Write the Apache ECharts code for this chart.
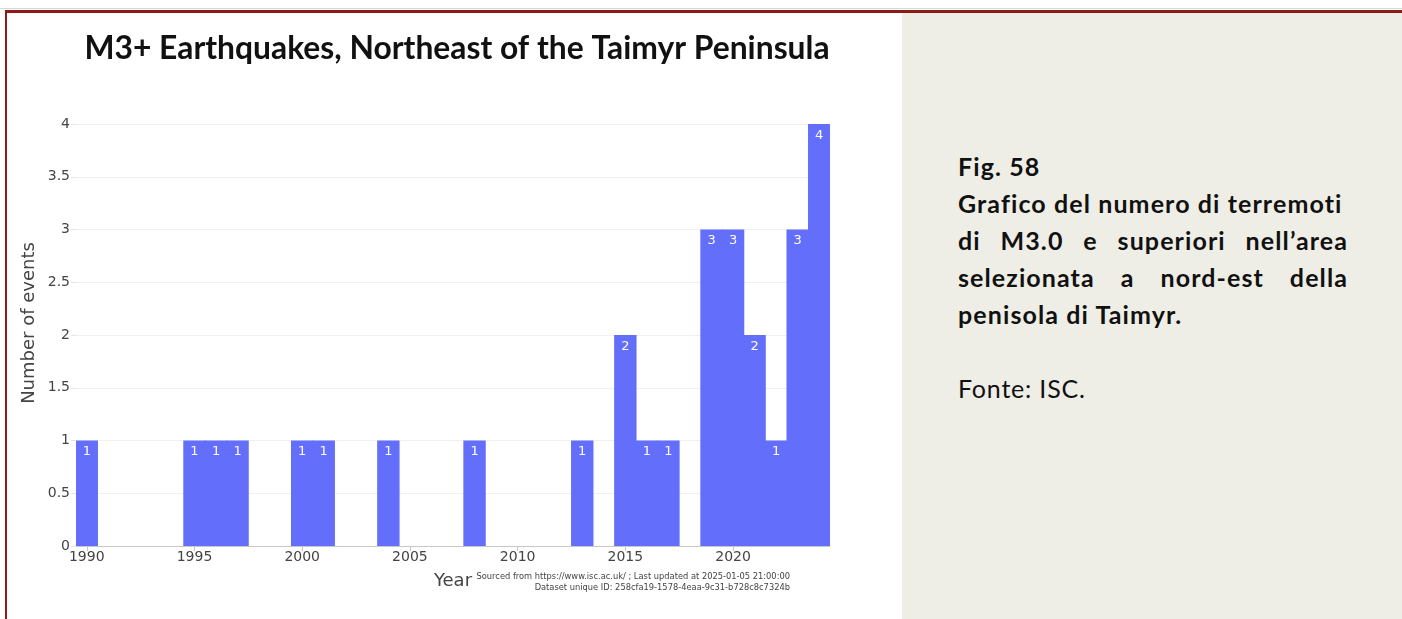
<!DOCTYPE html>
<html><head><meta charset="utf-8">
<script src="https://cdn.jsdelivr.net/npm/echarts@6/dist/echarts.min.js"></script>
<style>
html,body{margin:0;padding:0;background:#fff;width:1402px;height:619px;overflow:hidden;}
#topgray{position:absolute;left:0;top:8px;width:1402px;height:1px;background:#d8d8d8;}
#topred{position:absolute;left:5px;top:10px;width:1397px;height:3px;background:#8e1b17;}
#leftred{position:absolute;left:5px;top:10px;width:2px;height:609px;background:#8e1b17;}
#chart{position:absolute;left:0;top:0;width:902px;height:619px;}
#panel{position:absolute;left:902px;top:13px;width:500px;height:606px;background:#efeee6;}
#cap{position:absolute;left:958px;top:148px;width:392px;font-family:Lato,"Open Sans",sans-serif;color:#111;font-size:25px;line-height:37px;letter-spacing:1.1px;}
#cap div{white-space:nowrap;}
.b{font-weight:bold;}
.j{text-align:justify;text-align-last:justify;white-space:normal !important;width:390px;}
#src{margin-top:37px;letter-spacing:0.8px;}
</style></head>
<body>
<div id="chart"></div>
<div id="panel"></div>
<div id="topgray"></div><div id="topred"></div><div id="leftred"></div>
<div id="cap">
<div class="b">Fig. 58</div>
<div class="b">Grafico del numero di terremoti</div>
<div class="b j">di M3.0 e superiori nell’area</div>
<div class="b j">selezionata a nord-est della</div>
<div class="b">penisola di Taimyr.</div>
<div id="src">Fonte: ISC.</div>
</div>
<script>
const firstYear = 1990;
const lastYear = 2024;
const eventYears = [1990,1995,1996,1997,2000,2001,2004,2008,2013,2015,2016,2017,2019,2020,2021,2022,2023,2024];
const eventCounts = [1,1,1,1,1,1,1,1,1,2,1,1,3,3,2,1,3,4];
const yTicks = [0,0.5,1,1.5,2,2.5,3,3.5,4];
const titleText = 'M3+ Earthquakes, Northeast of the Taimyr Peninsula';
const yTitle = 'Number of events';
const xTitle = 'Year';
const sourceLine1 = 'Sourced from https://www.isc.ac.uk/ ; Last updated at 2025-01-05 21:00:00';
const sourceLine2 = 'Dataset unique ID: 258cfa19-1578-4eaa-9c31-b728c8c7324b';

const categories = [];
for (let y = firstYear; y <= lastYear; y++) categories.push(String(y));
const values = categories.map(c => {
  const i = eventYears.indexOf(Number(c));
  return i >= 0 ? eventCounts[i] : null;
});

const chart = echarts.init(document.getElementById('chart'), null, {renderer:'canvas'});
const font = 'DejaVu Sans, Verdana, sans-serif';
chart.setOption({
  animation:false,
  backgroundColor:'#fff',
  title:{
    text:titleText, left:452, top:28, textAlign:'center',
    textStyle:{fontFamily:'Lato, "Open Sans", sans-serif', fontWeight:'bold', fontSize:31.8, color:'#111'}
  },
  grid:{left:76, right:72, top:124, bottom:73, containLabel:false},
  xAxis:{
    type:'category', data:categories, boundaryGap:true,
    axisLine:{show:true, lineStyle:{color:'#c8c8c8', width:1}},
    axisTick:{show:true, interval:4, alignWithLabel:true, length:5, lineStyle:{color:'#c8c8c8'}},
    axisLabel:{interval:4, color:'#444', fontFamily:font, fontSize:14, margin:4},
    name:xTitle, nameLocation:'middle', nameGap:26,
    nameTextStyle:{color:'#444', fontFamily:font, fontSize:18}
  },
  yAxis:{
    type:'value', min:yTicks[0], max:yTicks[yTicks.length-1], interval:yTicks[1]-yTicks[0],
    axisLine:{show:false},
    axisTick:{show:true, length:5, lineStyle:{color:'#e6e6e6'}},
    splitLine:{lineStyle:{color:'#f0f0f0', width:1}},
    axisLabel:{color:'#444', fontFamily:font, fontSize:14, margin:6}
  },
  series:[{
    type:'bar', data:values, barWidth:'104%', barGap:'-100%',
    itemStyle:{color:'#636efa'},
    label:{show:true, position:'insideTop', color:'#fff', fontFamily:font, fontSize:13, distance:5}
  }],
  graphic:[
    {type:'text', x:29, y:323, rotation:Math.PI/2,
     style:{text:yTitle, fill:'#444', font:'18px "DejaVu Sans", Verdana, sans-serif', textAlign:'center', textVerticalAlign:'middle'}},
    {type:'text', right:902-790, top:573, style:{text:sourceLine1, fill:'#444', font:'8.3px "DejaVu Sans", Verdana, sans-serif', textAlign:'right'}},
    {type:'text', right:902-790, top:584, style:{text:sourceLine2, fill:'#444', font:'8.3px "DejaVu Sans", Verdana, sans-serif', textAlign:'right'}}
  ]
});
</script>
</body></html>
